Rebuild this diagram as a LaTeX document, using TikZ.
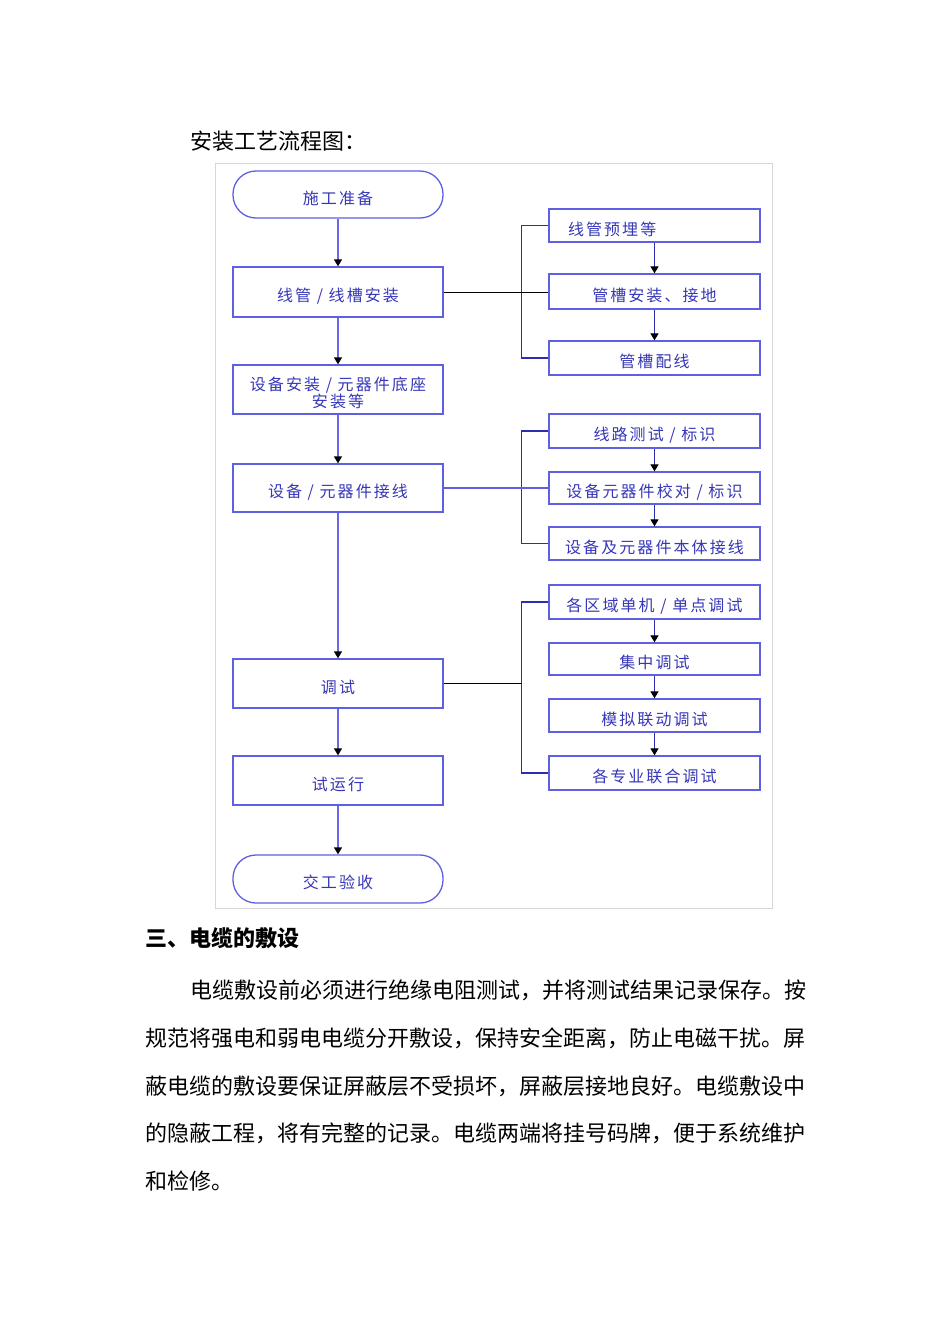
\documentclass[tikz,border=0pt]{standalone}
\usepackage{fontspec}
\setmainfont{Noto Sans CJK SC}
\newfontfamily\boxfont[LetterSpace=13]{Noto Sans CJK SC}
\usetikzlibrary{arrows.meta}
\definecolor{txtblue}{RGB}{55,55,185}
\definecolor{boxblue}{RGB}{95,95,225}
\definecolor{lineblue}{RGB}{105,105,230}
\definecolor{brkblue}{RGB}{45,45,175}
\definecolor{framegray}{RGB}{215,215,215}
\begin{document}
\begin{tikzpicture}[x=1pt,y=-1pt,
  lbox/.style={draw=boxblue, line width=1.3pt, minimum width=210pt, inner sep=0pt,
    font=\boxfont\fontsize{16}{17}\selectfont, text=txtblue, fill=white,
    text height=21.5pt, text depth=2pt},
  rbox/.style={draw=boxblue, line width=1.3pt, minimum width=211pt, inner sep=0pt,
    font=\boxfont\fontsize{16}{17}\selectfont, text=txtblue, fill=white,
    text height=21pt, text depth=2pt},
  stad/.style={lbox, rounded corners=23pt},
  arr/.style={draw=lineblue, line width=1.3pt, -{Triangle[width=8pt,length=7pt,color=black]}},
  rarr/.style={draw=brkblue, line width=1.1pt, -{Triangle[width=8pt,length=7pt,color=black]}},
  brk/.style={draw=brkblue, line width=1.1pt},
  plain/.style={inner sep=0pt, anchor=west, font=\fontsize{22}{22}\selectfont, text=black}
]
\useasboundingbox[fill=white] (0,0) rectangle (950,1344);

% title
\node[plain] (title) at (190,141) {安装工艺流程图：};

% frame
\draw[framegray, line width=1pt] (215,163) rectangle (772,908);

% left column
\node[stad, minimum height=47pt] (s)  at (338,194.5) {施工准备};
\node[lbox, minimum height=49pt, align=center, text height=38pt, text depth=2pt] (b2) at (338,389.5) {设备安装 / 元器件底座\\安装等};
\node[lbox, minimum height=50pt] (b1) at (338,292) {线管 / 线槽安装};
\node[lbox, minimum height=48pt] (b3) at (338,488) {设备 / 元器件接线};
\node[lbox, minimum height=49pt] (b4) at (338,683.5) {调试};
\node[lbox, minimum height=49pt] (b5) at (338,780.5) {试运行};
\node[stad, minimum height=48pt] (e)  at (338,879) {交工验收};

\draw[arr] (s) -- (b1);
\draw[arr] (b1) -- (b2);
\draw[arr] (b2) -- (b3);
\draw[arr] (b3) -- (b4);
\draw[arr] (b4) -- (b5);
\draw[arr] (b5) -- (e);

% right column
\node[rbox, minimum height=33pt, text width=173pt, align=left, inner xsep=19pt] (r1) at (654.5,225.5) {线管预埋等};
\node[rbox, minimum height=35pt] (r2) at (654.5,291.5) {管槽安装、接地};
\node[rbox, minimum height=34pt] (r3) at (654.5,358) {管槽配线};
\node[rbox, minimum height=34pt] (r4) at (654.5,431) {线路测试 / 标识};
\node[rbox, minimum height=32pt] (r5) at (654.5,488) {设备元器件校对 / 标识};
\node[rbox, minimum height=33pt] (r6) at (654.5,543.5) {设备及元器件本体接线};
\node[rbox, minimum height=34pt] (r7) at (654.5,602) {各区域单机 / 单点调试};
\node[rbox, minimum height=32pt] (r8) at (654.5,659) {集中调试};
\node[rbox, minimum height=33pt] (r9) at (654.5,715.5) {模拟联动调试};
\node[rbox, minimum height=34pt] (r10) at (654.5,773) {各专业联合调试};

\draw[rarr] (r1) -- (r2);
\draw[rarr] (r2) -- (r3);
\draw[rarr] (r4) -- (r5);
\draw[rarr] (r5) -- (r6);
\draw[rarr] (r7) -- (r8);
\draw[rarr] (r8) -- (r9);
\draw[rarr] (r9) -- (r10);

% brackets
\draw[brk] (r1.west) -- ++(-27,0) |- (r3.west);
\draw[brk] (r4.west) -- ++(-27,0) |- (r6.west);
\draw[brk] (r7.west) -- ++(-27,0) |- (r10.west);

% connectors
\draw[black, line width=1pt] (b1.east) -- (b1.east -| r2.west);
\draw[boxblue, line width=1.3pt] (b3.east) -- (b3.east -| r5.west);
\coordinate (j3) at (522,683.5);
\draw[black, line width=1pt] (b4.east) -- (j3);

% text below
\node[plain, font=\bfseries\fontsize{22}{22}\selectfont] (h) at (145,938) {三、电缆的敷设};
\node[plain] (p1) at (190,990) {电缆敷设前必须进行绝缘电阻测试，并将测试结果记录保存。按};
\node[plain] (p2) at (145,1038) {规范将强电和弱电电缆分开敷设，保持安全距离，防止电磁干扰。屏};
\node[plain] (p3) at (145,1086) {蔽电缆的敷设要保证屏蔽层不受损坏，屏蔽层接地良好。电缆敷设中};
\node[plain] (p4) at (145,1133) {的隐蔽工程，将有完整的记录。电缆两端将挂号码牌，便于系统维护};
\node[plain] (p5) at (145,1181) {和检修。};
\end{tikzpicture}
\end{document}
